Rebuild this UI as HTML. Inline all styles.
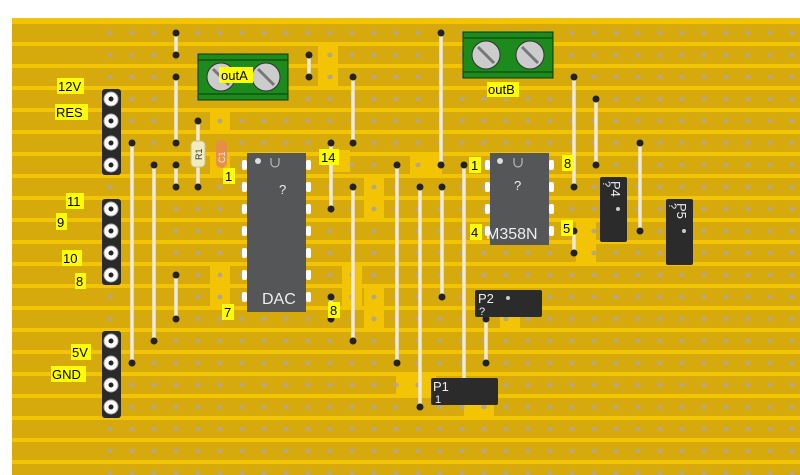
<!DOCTYPE html>
<html><head><meta charset="utf-8"><style>
html,body{margin:0;padding:0;background:#fff;}
svg{display:block;font-family:"Liberation Sans",sans-serif;}
.lb{font-size:13px;fill:#000;}
.wt{fill:#eee;}
</style></head><body>
<svg id="s" width="800" height="475" viewBox="0 0 800 475" xmlns="http://www.w3.org/2000/svg">
<rect x="12" y="18" width="788" height="457" fill="#f2c404"/>
<g id="strips"></g>
<g id="cuts" fill="#f2c404">
<rect x="318" y="44" width="20" height="42"/>
<rect x="210" y="112" width="20" height="20"/>
<rect x="210" y="156" width="20" height="20"/>
<rect x="410" y="156" width="32" height="22"/>
<rect x="210" y="266" width="20" height="42"/>
<rect x="342" y="266" width="20" height="42"/>
<rect x="364" y="178" width="20" height="44"/>
<rect x="364" y="288" width="20" height="42"/>
<rect x="576" y="222" width="20" height="44"/>
<rect x="396" y="376" width="40" height="20"/>
<rect x="464" y="398" width="30" height="20"/>
<rect x="500" y="310" width="20" height="22"/>
<rect x="330" y="150" width="20" height="22"/>
</g>
<g id="holes"></g>
<g stroke="#eeeae0" stroke-width="3.5" stroke-linecap="round" fill="none">
<line x1="176" y1="33" x2="176" y2="55"/><line x1="176" y1="77" x2="176" y2="143"/>
<line x1="176" y1="165" x2="176" y2="187"/><line x1="176" y1="275" x2="176" y2="319"/>
<line x1="132" y1="143" x2="132" y2="363"/><line x1="154" y1="165" x2="154" y2="341"/>
<line x1="309" y1="55" x2="309" y2="77"/><line x1="331" y1="143" x2="331" y2="209"/>
<line x1="331" y1="297" x2="331" y2="319"/><line x1="353" y1="77" x2="353" y2="143"/>
<line x1="353" y1="187" x2="353" y2="341"/><line x1="397" y1="165" x2="397" y2="363"/>
<line x1="441" y1="33" x2="441" y2="165"/><line x1="420" y1="187" x2="420" y2="407"/>
<line x1="442" y1="187" x2="442" y2="297"/><line x1="464" y1="165" x2="464" y2="385"/>
<line x1="574" y1="77" x2="574" y2="187"/><line x1="596" y1="99" x2="596" y2="165"/>
<line x1="640" y1="143" x2="640" y2="231"/><line x1="574" y1="231" x2="574" y2="253"/>
<line x1="486" y1="319" x2="486" y2="363"/><line x1="198" y1="121" x2="198" y2="187"/>
</g>
<g id="ends" fill="#222"></g>
<!-- R1, C1 -->
<rect x="191" y="141" width="14" height="26" rx="4" fill="#f0ecc0" stroke="#c8c090"/>
<text x="193" y="159" font-size="9" transform="rotate(-90 198 155)" fill="#333">R1</text>
<rect x="216" y="140" width="11" height="28" rx="5" fill="#e88a50" opacity="0.85"/>
<text x="216" y="162" font-size="9" transform="rotate(-90 221 158)" fill="#fee">C1</text>
<!-- terminals -->
<rect x="198" y="54" width="90" height="46" fill="#1c8a1c" stroke="#0a3a0a"/>
<line x1="198" y1="60" x2="288" y2="60" stroke="#0a3a0a"/><line x1="198" y1="94" x2="288" y2="94" stroke="#0a3a0a"/>
<circle cx="221" cy="77" r="14" fill="#ccc" stroke="#333"/><circle cx="266" cy="77" r="14" fill="#ccc" stroke="#333"/>
<line x1="213" y1="69" x2="229" y2="85" stroke="#777" stroke-width="3"/><line x1="258" y1="69" x2="274" y2="85" stroke="#777" stroke-width="3"/>
<rect x="219" y="67" width="34" height="16" fill="#ffff00"/><text x="221" y="80" class="lb">outA</text>
<rect x="463" y="32" width="90" height="46" fill="#1c8a1c" stroke="#0a3a0a"/>
<line x1="463" y1="38" x2="553" y2="38" stroke="#0a3a0a"/><line x1="463" y1="72" x2="553" y2="72" stroke="#0a3a0a"/>
<circle cx="486" cy="55" r="14" fill="#ccc" stroke="#333"/><circle cx="530" cy="55" r="14" fill="#ccc" stroke="#333"/>
<line x1="478" y1="47" x2="494" y2="63" stroke="#777" stroke-width="3"/><line x1="522" y1="47" x2="538" y2="63" stroke="#777" stroke-width="3"/>
<rect x="487" y="82" width="32" height="15" fill="#ffff00"/><text x="488" y="94" class="lb">outB</text>
<!-- headers -->
<rect x="102" y="89" width="19" height="86" rx="3" fill="#2a2a2a"/>
<rect x="102" y="199" width="19" height="86" rx="3" fill="#2a2a2a"/>
<rect x="102" y="331" width="19" height="87" rx="3" fill="#2a2a2a"/>
<g id="hdr"></g>
<!-- labels -->
<g class="lb">
<rect x="57" y="78" width="27" height="16" fill="#ffff00"/><text x="58" y="91">12V</text>
<rect x="55" y="104" width="33" height="16" fill="#ffff00"/><text x="56" y="117">RES</text>
<rect x="66" y="193" width="18" height="16" fill="#ffff00"/><text x="67" y="206">11</text>
<rect x="56" y="213" width="11" height="17" fill="#ffff00"/><text x="57" y="227">9</text>
<rect x="62" y="250" width="20" height="16" fill="#ffff00"/><text x="63" y="263">10</text>
<rect x="75" y="273" width="11" height="16" fill="#ffff00"/><text x="76" y="286">8</text>
<rect x="71" y="344" width="20" height="16" fill="#ffff00"/><text x="72" y="357">5V</text>
<rect x="51" y="366" width="35" height="16" fill="#ffff00"/><text x="52" y="379">GND</text>
</g>
<!-- DAC -->
<rect x="247" y="153" width="59" height="159" fill="#555658"/>
<text x="262" y="304" font-size="16" class="wt">DAC</text>
<text x="279" y="194" font-size="13" class="wt">?</text>
<circle cx="258" cy="161" r="3" fill="#ddd"/>
<path d="M271 158 v5 a4 4 0 0 0 8 0 v-5" fill="none" stroke="#ccc"/>
<g class="lb">
<rect x="223" y="168" width="12" height="16" fill="#ffff00"/><text x="225" y="181">1</text>
<rect x="319" y="149" width="20" height="16" fill="#ffff00"/><text x="321" y="162">14</text>
<rect x="222" y="304" width="12" height="16" fill="#ffff00"/><text x="224" y="317">7</text>
<rect x="328" y="302" width="12" height="16" fill="#ffff00"/><text x="330" y="315">8</text>
</g>
<!-- LM358 -->
<rect x="490" y="153" width="59" height="92" fill="#555658"/>
<text x="486" y="239" font-size="16" class="wt">M358N</text>
<text x="514" y="190" font-size="13" class="wt">?</text>
<circle cx="500" cy="161" r="3" fill="#ddd"/>
<path d="M514 158 v5 a4 4 0 0 0 8 0 v-5" fill="none" stroke="#ccc"/>
<g class="lb">
<rect x="469" y="157" width="12" height="16" fill="#ffff00"/><text x="471" y="170">1</text>
<rect x="562" y="155" width="12" height="16" fill="#ffff00"/><text x="564" y="168">8</text>
<rect x="470" y="224" width="12" height="16" fill="#ffff00"/><text x="471" y="237">4</text>
<rect x="561" y="220" width="12" height="16" fill="#ffff00"/><text x="563" y="233">5</text>
</g>
<!-- pots -->
<rect x="600" y="177" width="27" height="65" rx="2" fill="#2b2b2b"/>
<text x="611" y="181" font-size="13" class="wt" transform="rotate(90 611 181)">P4</text>
<text x="603" y="181" font-size="11" class="wt" transform="rotate(90 603 181)">?</text>
<circle cx="618" cy="209" r="2" fill="#ccc"/>
<rect x="666" y="199" width="27" height="66" rx="2" fill="#2b2b2b"/>
<text x="677" y="203" font-size="13" class="wt" transform="rotate(90 677 203)">P5</text>
<text x="669" y="203" font-size="11" class="wt" transform="rotate(90 669 203)">?</text>
<circle cx="684" cy="231" r="2" fill="#ccc"/>
<rect x="475" y="290" width="67" height="27" rx="2" fill="#2b2b2b"/>
<text x="478" y="303" font-size="13" class="wt">P2</text><text x="479" y="315" font-size="11" class="wt">?</text>
<circle cx="508" cy="298" r="2" fill="#ccc"/>
<rect x="431" y="378" width="67" height="27" rx="2" fill="#2b2b2b"/>
<text x="433" y="391" font-size="13" class="wt">P1</text><text x="435" y="403" font-size="11" class="wt">1</text>
<g id="pins" fill="#fff"></g>
<script>
var ns="http://www.w3.org/2000/svg";
function el(p,t,a){var e=document.createElementNS(ns,t);for(var k in a)e.setAttribute(k,a[k]);document.getElementById(p).appendChild(e);return e;}
for(var n=0;n<21;n++){var y=33+22*n;el("strips","rect",{x:12,y:y-9,width:788,height:18,fill:"#d6aa0c"});}
for(var n=0;n<21;n++)for(var c=0;c<32;c++){el("holes","circle",{cx:110+22*c,cy:33+22*n,r:2.5,fill:"#b8a880"});}
var ends=[[176,33],[176,55],[176,77],[176,143],[176,165],[176,187],[176,275],[176,319],[132,143],[132,363],[154,165],[154,341],[309,55],[309,77],[331,143],[331,209],[331,297],[331,319],[353,77],[353,143],[353,187],[353,341],[397,165],[397,363],[441,33],[441,165],[420,187],[420,407],[442,187],[442,297],[464,165],[464,385],[574,77],[574,187],[596,99],[596,165],[640,143],[640,231],[574,231],[574,253],[486,319],[486,363],[198,121],[198,187]];
ends.forEach(function(p){el("ends","circle",{cx:p[0],cy:p[1],r:3.5});});
[99,121,143,165,209,231,253,275,341,363,385,407].forEach(function(y){el("hdr","circle",{cx:111,cy:y,r:7,fill:"#fff",stroke:"#aaa"});el("hdr","circle",{cx:111,cy:y,r:2.5,fill:"#222"});});
for(var i=0;i<7;i++){var y=165+22*i;el("pins","rect",{x:242,y:y-5,width:5,height:10,rx:2});el("pins","rect",{x:306,y:y-5,width:5,height:10,rx:2});}
for(var i=0;i<4;i++){var y=165+22*i;el("pins","rect",{x:485,y:y-5,width:5,height:10,rx:2});el("pins","rect",{x:549,y:y-5,width:5,height:10,rx:2});}
</script>
</svg>
</body></html>
